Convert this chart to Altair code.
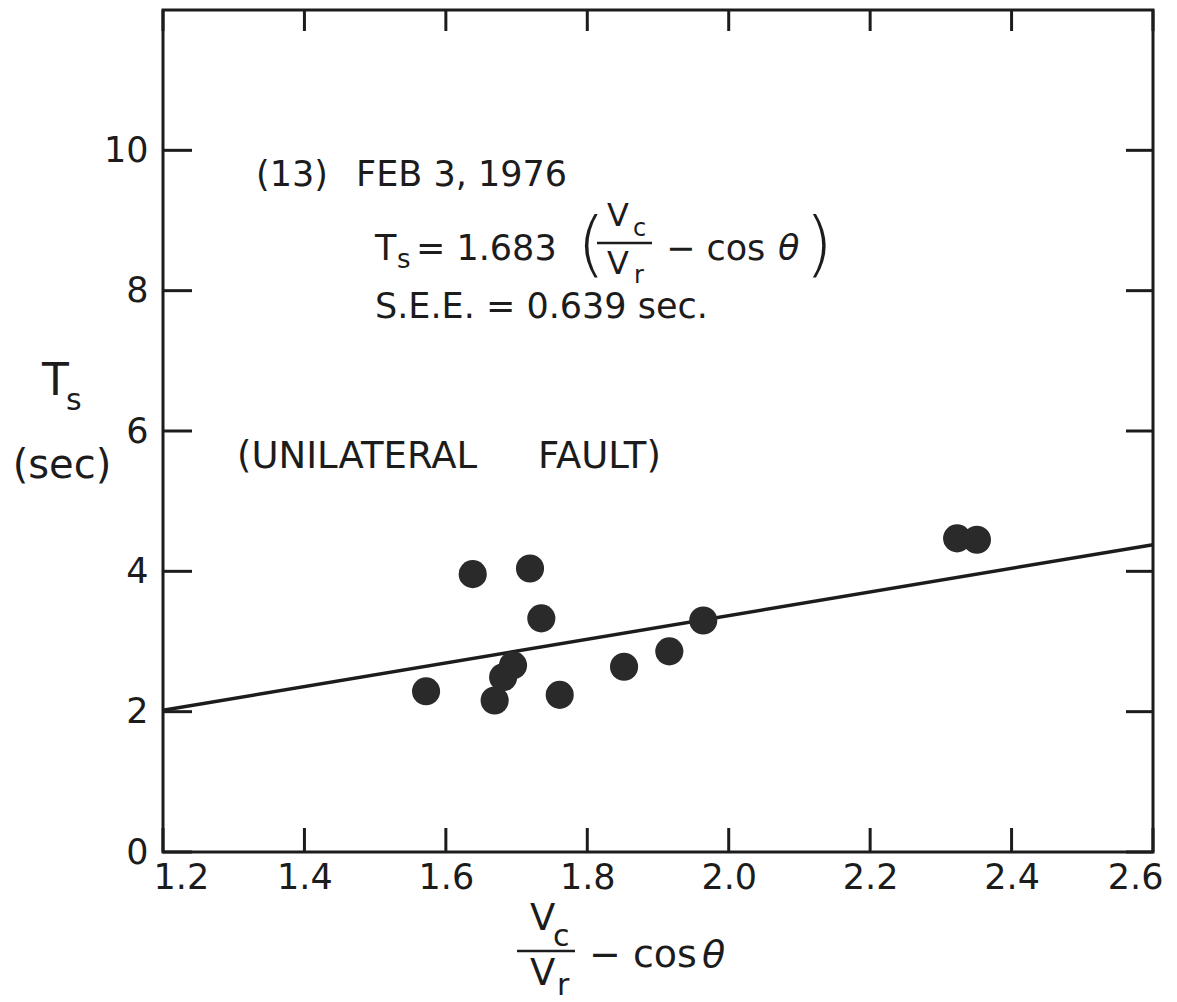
import altair as alt
import pandas as pd

# ---- data ----
x_vals = [1.572, 1.638, 1.669, 1.681, 1.695, 1.719, 1.735, 1.761, 1.852, 1.916, 1.964, 2.323, 2.351]
y_vals = [2.29, 3.96, 2.16, 2.49, 2.66, 4.04, 3.33, 2.24, 2.64, 2.86, 3.30, 4.47, 4.45]
fit_x = [1.2, 2.6]
fit_y = [2.02, 4.38]
x_ticks = [1.2, 1.4, 1.6, 1.8, 2.0, 2.2, 2.4, 2.6]
y_ticks = [0, 2, 4, 6, 8, 10]

FONT = "DejaVu Sans, sans-serif"
INK = "#1c1c1c"
W, H = 990, 842
L, T = 163, 10

pts = pd.DataFrame({"x": x_vals, "y": y_vals})
fit = pd.DataFrame({"x": fit_x, "y": fit_y})
xt = pd.DataFrame({"v": x_ticks})
yt = pd.DataFrame({"v": y_ticks})

xs = alt.Scale(domain=[1.2, 2.6], nice=False, zero=False)
ys = alt.Scale(domain=[0, 12], nice=False, zero=False)

xaxis = alt.Axis(values=x_ticks, format=".1f", title=None, grid=False, domain=False,
                 ticks=False, labelFontSize=35, labelFont=FONT, labelColor=INK,
                 labelPadding=8, labelFlush=True, labelFlushOffset=10)
yaxis = alt.Axis(values=y_ticks, format="d", title=None, grid=False, domain=False,
                 ticks=False, labelFontSize=35, labelFont=FONT, labelColor=INK,
                 labelPadding=15)

points = alt.Chart(pts).mark_circle(size=790, opacity=1, color="#2a2a2a").encode(
    x=alt.X("x:Q", scale=xs, axis=xaxis),
    y=alt.Y("y:Q", scale=ys, axis=yaxis),
)

line = alt.Chart(fit).mark_line(color=INK, strokeWidth=3.5).encode(
    x=alt.X("x:Q", scale=xs), y=alt.Y("y:Q", scale=ys)
)

tb = alt.Chart(xt).mark_rule(color=INK, strokeWidth=3).encode(
    x=alt.X("v:Q", scale=xs), y=alt.value(H), y2=alt.value(H - 24))
tt = alt.Chart(xt).mark_rule(color=INK, strokeWidth=3).encode(
    x=alt.X("v:Q", scale=xs), y=alt.value(0), y2=alt.value(21))
tl = alt.Chart(yt).mark_rule(color=INK, strokeWidth=3).encode(
    y=alt.Y("v:Q", scale=ys), x=alt.value(0), x2=alt.value(29))
tr = alt.Chart(yt).mark_rule(color=INK, strokeWidth=3).encode(
    y=alt.Y("v:Q", scale=ys), x=alt.value(W), x2=alt.value(W - 27))


def txt(s, px, py, size=35, align="left", style="normal", weight="normal"):
    return alt.Chart(pd.DataFrame({"t": [s]})).mark_text(
        align=align, baseline="alphabetic", fontSize=size, font=FONT,
        color=INK, fontStyle=style, fontWeight=weight
    ).encode(x=alt.value(px - L), y=alt.value(py - T), text="t:N")


def bar(x1, x2, py):
    return alt.Chart(pd.DataFrame({"t": [0]})).mark_rule(color=INK, strokeWidth=2.5).encode(
        x=alt.value(x1 - L), x2=alt.value(x2 - L), y=alt.value(py - T))


labels = [
    txt("(13)", 256, 186),
    txt("FEB 3, 1976", 356, 186),
    txt("T", 375, 260),
    txt("s", 397, 268, 26),
    txt("= 1.683", 416, 260),
    txt("(", 577, 268, 72, weight=200),
    txt("V", 607, 226, 32),
    txt("c", 633, 236, 24),
    bar(597, 652, 243),
    txt("V", 607, 274, 32),
    txt("r", 634, 283, 24),
    txt("− cos", 666, 260),
    txt("θ", 778, 260, 35, style="italic"),
    txt(")", 805, 268, 72, weight=200),
    txt("S.E.E. = 0.639 sec.", 375, 318),
    txt("(UNILATERAL", 237, 468, 37),
    txt("FAULT)", 538, 468, 37),
    # y axis title
    txt("T", 42, 395, 44),
    txt("s", 66, 410, 30),
    txt("(sec)", 62, 478, 40, align="center"),
    # x axis title
    txt("V", 530, 930, 37),
    txt("c", 553, 946, 30),
    bar(517, 575, 951),
    txt("V", 530, 985, 37),
    txt("r", 557, 995, 30),
    txt("− cos", 589, 967, 38),
    txt("θ", 702, 967, 38, style="italic"),
]

chart = alt.layer(line, points, tb, tt, tl, tr, *labels).properties(
    width=W, height=H,
    autosize=alt.AutoSizeParams(type="none"),
    padding={"left": L, "top": T, "right": 1177 - L - W, "bottom": 1002 - T - H},
    background="white",
).configure_view(stroke=INK, strokeWidth=3)

chart.save("out.html", embed_options={"renderer": "svg", "actions": False})
